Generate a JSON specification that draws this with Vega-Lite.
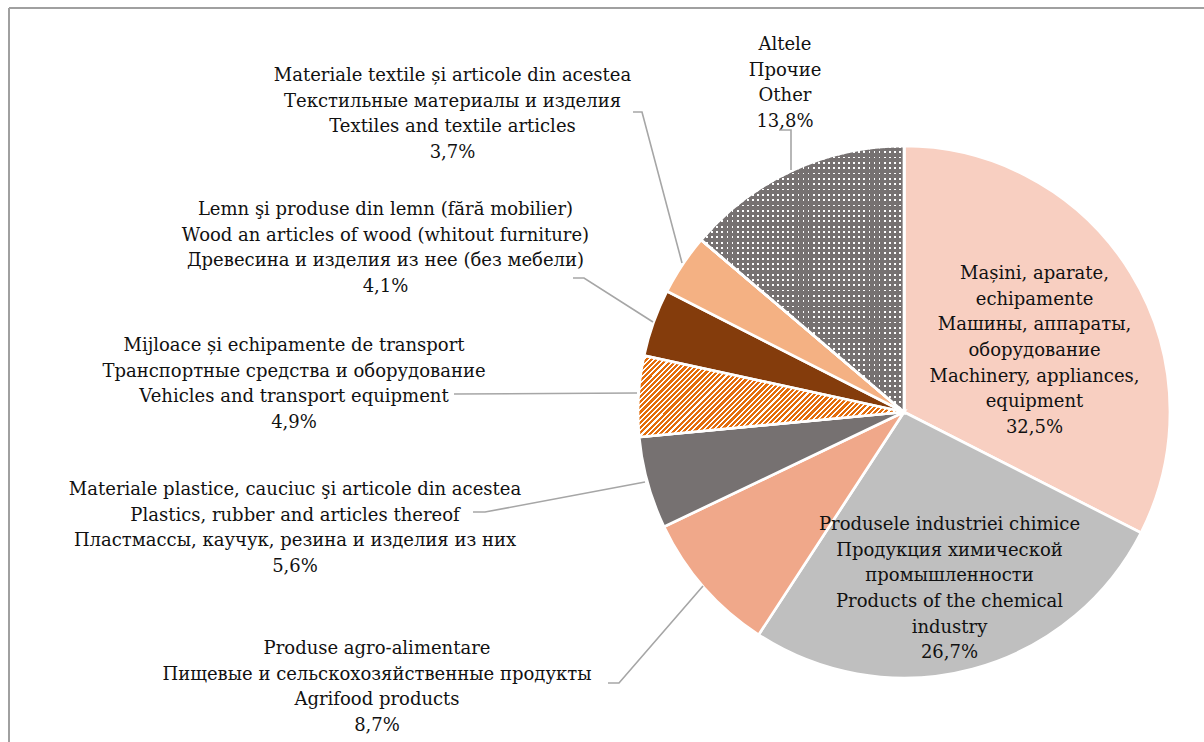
{
  "$schema": "https://vega.github.io/schema/vega-lite/v6.json",
  "width": 1195,
  "height": 734,
  "autosize": {"type": "none"},
  "padding": {"left": 9, "top": 8, "right": 0, "bottom": 0},
  "background": "white",
  "config": {"view": {"stroke": null}},
  "datasets": {
    "slices": [
      {"name": "Machinery", "value": 32.5, "order": 1},
      {"name": "Chemical", "value": 26.7, "order": 2},
      {"name": "Agrifood", "value": 8.7, "order": 3},
      {"name": "Plastics", "value": 5.6, "order": 4},
      {"name": "Vehicles", "value": 4.9, "order": 5},
      {"name": "Wood", "value": 4.1, "order": 6},
      {"name": "Textiles", "value": 3.7, "order": 7},
      {"name": "Other", "value": 13.8, "order": 8}
    ],
    "labels": [
      {"name": "Textiles", "x": -170.38, "y": 126.79, "label": "Materiale textile și articole din acestea\nТекстильные материалы и изделия\nTextiles and textile articles\n3,7%"},
      {"name": "Other", "x": -44.91, "y": 138.49, "label": "Altele\nПрочие\nOther\n13,8%"},
      {"name": "Wood", "x": -195.66, "y": 76.23, "label": "Lemn şi produse din lemn (fără mobilier)\nWood an articles of wood (whitout furniture)\nДревесина и изделия из нее (без мебели)\n4,1%"},
      {"name": "Vehicles", "x": -230.19, "y": 24.91, "label": "Mijloace și echipamente de transport\nТранспортные средства и оборудование\nVehicles and transport equipment\n4,9%"},
      {"name": "Plastics", "x": -229.81, "y": -29.43, "label": "Materiale plastice, cauciuc şi articole din acestea\nPlastics, rubber and articles thereof\nПластмассы, каучук, резина и изделия из них\n5,6%"},
      {"name": "Agrifood", "x": -198.87, "y": -89.43, "label": "Produse agro-alimentare\nПищевые и сельскохозяйственные продукты\nAgrifood products\n8,7%"},
      {"name": "Machinery", "x": 49.25, "y": 52.08, "label": "Mașini, aparate,\nechipamente\nМашины, аппараты,\nоборудование\nMachinery, appliances,\nequipment\n32,5%"},
      {"name": "Chemical", "x": 17.17, "y": -42.64, "label": "Produsele industriei chimice\nПродукция химической\nпромышленности\nProducts of the chemical\nindustry\n26,7%"}
    ],
    "leaders": [
      {"id": "Textiles", "seq": 1, "x": -102.26, "y": 113.21},
      {"id": "Textiles", "seq": 2, "x": -98.87, "y": 113.21},
      {"id": "Textiles", "seq": 3, "x": -83.77, "y": 56.23},
      {"id": "Wood", "seq": 1, "x": -124.91, "y": 50.57},
      {"id": "Wood", "seq": 2, "x": -120.75, "y": 50.57},
      {"id": "Wood", "seq": 3, "x": -94.72, "y": 33.96},
      {"id": "Vehicles", "seq": 1, "x": -169.81, "y": 6.79},
      {"id": "Vehicles", "seq": 2, "x": -100.75, "y": 7.17},
      {"id": "Plastics", "seq": 1, "x": -162.64, "y": -37.74},
      {"id": "Plastics", "seq": 2, "x": -158.11, "y": -37.74},
      {"id": "Plastics", "seq": 3, "x": -97.74, "y": -26.42},
      {"id": "Agrifood", "seq": 1, "x": -111.70, "y": -102.26},
      {"id": "Agrifood", "seq": 2, "x": -107.55, "y": -102.26},
      {"id": "Agrifood", "seq": 3, "x": -75.85, "y": -65.66},
      {"id": "Other", "seq": 1, "x": -47.17, "y": 106.42},
      {"id": "Other", "seq": 2, "x": -42.64, "y": 106.42},
      {"id": "Other", "seq": 3, "x": -42.64, "y": 91.32}
    ]
  },
  "layer": [
    {
      "data": {"values": [{"edge": "left"}]},
      "mark": {"type": "rule", "stroke": "#A0A0A0", "strokeWidth": 2},
      "encoding": {
        "x": {"datum": -337.74, "type": "quantitative", "scale": {"type": "linear", "domain": [-337.74, 113.21], "nice": false, "zero": false}, "axis": null}
      }
    },
    {
      "data": {"values": [{"edge": "top"}]},
      "mark": {"type": "rule", "stroke": "#A0A0A0", "strokeWidth": 2},
      "encoding": {
        "y": {"datum": 152.45, "type": "quantitative", "scale": {"type": "linear", "domain": [-124.53, 152.45], "nice": false, "zero": false}, "axis": null}
      }
    },
    {
      "data": {"name": "slices"},
      "transform": [
        {"stack": "value", "groupby": [], "sort": [{"field": "order", "order": "ascending"}], "as": ["t0", "t1"]}
      ],
      "mark": {"type": "arc", "outerRadius": 266, "stroke": "white", "strokeWidth": 2.7},
      "encoding": {
        "x": {"datum": 0, "type": "quantitative", "scale": {"type": "linear", "domain": [-337.74, 113.21], "nice": false, "zero": false}, "axis": null},
        "y": {"datum": 0, "type": "quantitative", "scale": {"type": "linear", "domain": [-124.53, 152.45], "nice": false, "zero": false}, "axis": null},
        "theta": {"field": "t0", "type": "quantitative", "scale": {"type": "linear", "domain": [0, 100], "zero": true}},
        "theta2": {"field": "t1"},
        "color": {
          "field": "name", "type": "nominal", "legend": null,
          "scale": {
            "domain": ["Machinery", "Chemical", "Agrifood", "Plastics", "Vehicles", "Wood", "Textiles", "Other"],
            "range": ["#F8CFC1", "#BFBFBF", "#F0A88A", "#767171", "#EEA36C", "#843C0C", "#F4B183", "#7E7A7A"]
          }
        }
      }
    },
    {
      "data": {"name": "slices"},
      "transform": [
        {"stack": "value", "groupby": [], "sort": [{"field": "order", "order": "ascending"}], "as": ["t0", "t1"]},
        {"filter": "datum.name === 'Other'"}
      ],
      "mark": {"type": "arc", "outerRadius": 266, "stroke": "white", "strokeWidth": 2.7, "fill": "#FFFFFF"},
      "encoding": {
        "x": {"datum": 0, "type": "quantitative", "scale": {"type": "linear", "domain": [-337.74, 113.21], "nice": false, "zero": false}, "axis": null},
        "y": {"datum": 0, "type": "quantitative", "scale": {"type": "linear", "domain": [-124.53, 152.45], "nice": false, "zero": false}, "axis": null},
        "theta": {"field": "t0", "type": "quantitative", "scale": {"type": "linear", "domain": [0, 100], "zero": true}},
        "theta2": {"field": "t1"}
      }
    },
    {
      "data": {"name": "slices"},
      "transform": [
        {"stack": "value", "groupby": [], "sort": [{"field": "order", "order": "ascending"}], "as": ["t0", "t1"]},
        {"filter": "datum.name === 'Other'"}
      ],
      "mark": {
        "type": "arc", "outerRadius": 266, "stroke": "white", "strokeWidth": 2.7,
        "fill": {
          "gradient": "linear", "x1": 0, "y1": 0, "x2": 0, "y2": 1,
          "stops": [
            {"offset":0,"color":"rgba(118,113,113,0)"},{"offset":0.007,"color":"rgba(118,113,113,0)"},{"offset":0.007,"color":"#767171"},{"offset":0.02,"color":"#767171"},
            {"offset":0.02,"color":"rgba(118,113,113,0)"},{"offset":0.027,"color":"rgba(118,113,113,0)"},{"offset":0.027,"color":"#767171"},{"offset":0.04,"color":"#767171"},
            {"offset":0.04,"color":"rgba(118,113,113,0)"},{"offset":0.047,"color":"rgba(118,113,113,0)"},{"offset":0.047,"color":"#767171"},{"offset":0.06,"color":"#767171"},
            {"offset":0.06,"color":"rgba(118,113,113,0)"},{"offset":0.067,"color":"rgba(118,113,113,0)"},{"offset":0.067,"color":"#767171"},{"offset":0.08,"color":"#767171"},
            {"offset":0.08,"color":"rgba(118,113,113,0)"},{"offset":0.087,"color":"rgba(118,113,113,0)"},{"offset":0.087,"color":"#767171"},{"offset":0.1,"color":"#767171"},
            {"offset":0.1,"color":"rgba(118,113,113,0)"},{"offset":0.107,"color":"rgba(118,113,113,0)"},{"offset":0.107,"color":"#767171"},{"offset":0.12,"color":"#767171"},
            {"offset":0.12,"color":"rgba(118,113,113,0)"},{"offset":0.127,"color":"rgba(118,113,113,0)"},{"offset":0.127,"color":"#767171"},{"offset":0.14,"color":"#767171"},
            {"offset":0.14,"color":"rgba(118,113,113,0)"},{"offset":0.147,"color":"rgba(118,113,113,0)"},{"offset":0.147,"color":"#767171"},{"offset":0.16,"color":"#767171"},
            {"offset":0.16,"color":"rgba(118,113,113,0)"},{"offset":0.167,"color":"rgba(118,113,113,0)"},{"offset":0.167,"color":"#767171"},{"offset":0.18,"color":"#767171"},
            {"offset":0.18,"color":"rgba(118,113,113,0)"},{"offset":0.187,"color":"rgba(118,113,113,0)"},{"offset":0.187,"color":"#767171"},{"offset":0.2,"color":"#767171"},
            {"offset":0.2,"color":"rgba(118,113,113,0)"},{"offset":0.207,"color":"rgba(118,113,113,0)"},{"offset":0.207,"color":"#767171"},{"offset":0.22,"color":"#767171"},
            {"offset":0.22,"color":"rgba(118,113,113,0)"},{"offset":0.227,"color":"rgba(118,113,113,0)"},{"offset":0.227,"color":"#767171"},{"offset":0.24,"color":"#767171"},
            {"offset":0.24,"color":"rgba(118,113,113,0)"},{"offset":0.247,"color":"rgba(118,113,113,0)"},{"offset":0.247,"color":"#767171"},{"offset":0.26,"color":"#767171"},
            {"offset":0.26,"color":"rgba(118,113,113,0)"},{"offset":0.267,"color":"rgba(118,113,113,0)"},{"offset":0.267,"color":"#767171"},{"offset":0.28,"color":"#767171"},
            {"offset":0.28,"color":"rgba(118,113,113,0)"},{"offset":0.287,"color":"rgba(118,113,113,0)"},{"offset":0.287,"color":"#767171"},{"offset":0.3,"color":"#767171"},
            {"offset":0.3,"color":"rgba(118,113,113,0)"},{"offset":0.307,"color":"rgba(118,113,113,0)"},{"offset":0.307,"color":"#767171"},{"offset":0.32,"color":"#767171"},
            {"offset":0.32,"color":"rgba(118,113,113,0)"},{"offset":0.327,"color":"rgba(118,113,113,0)"},{"offset":0.327,"color":"#767171"},{"offset":0.34,"color":"#767171"},
            {"offset":0.34,"color":"rgba(118,113,113,0)"},{"offset":0.347,"color":"rgba(118,113,113,0)"},{"offset":0.347,"color":"#767171"},{"offset":0.36,"color":"#767171"},
            {"offset":0.36,"color":"rgba(118,113,113,0)"},{"offset":0.367,"color":"rgba(118,113,113,0)"},{"offset":0.367,"color":"#767171"},{"offset":0.38,"color":"#767171"},
            {"offset":0.38,"color":"rgba(118,113,113,0)"},{"offset":0.387,"color":"rgba(118,113,113,0)"},{"offset":0.387,"color":"#767171"},{"offset":0.4,"color":"#767171"},
            {"offset":0.4,"color":"rgba(118,113,113,0)"},{"offset":0.407,"color":"rgba(118,113,113,0)"},{"offset":0.407,"color":"#767171"},{"offset":0.42,"color":"#767171"},
            {"offset":0.42,"color":"rgba(118,113,113,0)"},{"offset":0.427,"color":"rgba(118,113,113,0)"},{"offset":0.427,"color":"#767171"},{"offset":0.44,"color":"#767171"},
            {"offset":0.44,"color":"rgba(118,113,113,0)"},{"offset":0.447,"color":"rgba(118,113,113,0)"},{"offset":0.447,"color":"#767171"},{"offset":0.46,"color":"#767171"},
            {"offset":0.46,"color":"rgba(118,113,113,0)"},{"offset":0.467,"color":"rgba(118,113,113,0)"},{"offset":0.467,"color":"#767171"},{"offset":0.48,"color":"#767171"},
            {"offset":0.48,"color":"rgba(118,113,113,0)"},{"offset":0.487,"color":"rgba(118,113,113,0)"},{"offset":0.487,"color":"#767171"},{"offset":0.5,"color":"#767171"},
            {"offset":0.5,"color":"rgba(118,113,113,0)"},{"offset":0.507,"color":"rgba(118,113,113,0)"},{"offset":0.507,"color":"#767171"},{"offset":0.52,"color":"#767171"},
            {"offset":0.52,"color":"rgba(118,113,113,0)"},{"offset":0.527,"color":"rgba(118,113,113,0)"},{"offset":0.527,"color":"#767171"},{"offset":0.54,"color":"#767171"},
            {"offset":0.54,"color":"rgba(118,113,113,0)"},{"offset":0.547,"color":"rgba(118,113,113,0)"},{"offset":0.547,"color":"#767171"},{"offset":0.56,"color":"#767171"},
            {"offset":0.56,"color":"rgba(118,113,113,0)"},{"offset":0.567,"color":"rgba(118,113,113,0)"},{"offset":0.567,"color":"#767171"},{"offset":0.58,"color":"#767171"},
            {"offset":0.58,"color":"rgba(118,113,113,0)"},{"offset":0.587,"color":"rgba(118,113,113,0)"},{"offset":0.587,"color":"#767171"},{"offset":0.6,"color":"#767171"},
            {"offset":0.6,"color":"rgba(118,113,113,0)"},{"offset":0.607,"color":"rgba(118,113,113,0)"},{"offset":0.607,"color":"#767171"},{"offset":0.62,"color":"#767171"},
            {"offset":0.62,"color":"rgba(118,113,113,0)"},{"offset":0.627,"color":"rgba(118,113,113,0)"},{"offset":0.627,"color":"#767171"},{"offset":0.64,"color":"#767171"},
            {"offset":0.64,"color":"rgba(118,113,113,0)"},{"offset":0.647,"color":"rgba(118,113,113,0)"},{"offset":0.647,"color":"#767171"},{"offset":0.66,"color":"#767171"},
            {"offset":0.66,"color":"rgba(118,113,113,0)"},{"offset":0.667,"color":"rgba(118,113,113,0)"},{"offset":0.667,"color":"#767171"},{"offset":0.68,"color":"#767171"},
            {"offset":0.68,"color":"rgba(118,113,113,0)"},{"offset":0.687,"color":"rgba(118,113,113,0)"},{"offset":0.687,"color":"#767171"},{"offset":0.7,"color":"#767171"},
            {"offset":0.7,"color":"rgba(118,113,113,0)"},{"offset":0.707,"color":"rgba(118,113,113,0)"},{"offset":0.707,"color":"#767171"},{"offset":0.72,"color":"#767171"},
            {"offset":0.72,"color":"rgba(118,113,113,0)"},{"offset":0.727,"color":"rgba(118,113,113,0)"},{"offset":0.727,"color":"#767171"},{"offset":0.74,"color":"#767171"},
            {"offset":0.74,"color":"rgba(118,113,113,0)"},{"offset":0.747,"color":"rgba(118,113,113,0)"},{"offset":0.747,"color":"#767171"},{"offset":0.76,"color":"#767171"},
            {"offset":0.76,"color":"rgba(118,113,113,0)"},{"offset":0.767,"color":"rgba(118,113,113,0)"},{"offset":0.767,"color":"#767171"},{"offset":0.78,"color":"#767171"},
            {"offset":0.78,"color":"rgba(118,113,113,0)"},{"offset":0.787,"color":"rgba(118,113,113,0)"},{"offset":0.787,"color":"#767171"},{"offset":0.8,"color":"#767171"},
            {"offset":0.8,"color":"rgba(118,113,113,0)"},{"offset":0.807,"color":"rgba(118,113,113,0)"},{"offset":0.807,"color":"#767171"},{"offset":0.82,"color":"#767171"},
            {"offset":0.82,"color":"rgba(118,113,113,0)"},{"offset":0.827,"color":"rgba(118,113,113,0)"},{"offset":0.827,"color":"#767171"},{"offset":0.84,"color":"#767171"},
            {"offset":0.84,"color":"rgba(118,113,113,0)"},{"offset":0.847,"color":"rgba(118,113,113,0)"},{"offset":0.847,"color":"#767171"},{"offset":0.86,"color":"#767171"},
            {"offset":0.86,"color":"rgba(118,113,113,0)"},{"offset":0.867,"color":"rgba(118,113,113,0)"},{"offset":0.867,"color":"#767171"},{"offset":0.88,"color":"#767171"},
            {"offset":0.88,"color":"rgba(118,113,113,0)"},{"offset":0.887,"color":"rgba(118,113,113,0)"},{"offset":0.887,"color":"#767171"},{"offset":0.9,"color":"#767171"},
            {"offset":0.9,"color":"rgba(118,113,113,0)"},{"offset":0.907,"color":"rgba(118,113,113,0)"},{"offset":0.907,"color":"#767171"},{"offset":0.92,"color":"#767171"},
            {"offset":0.92,"color":"rgba(118,113,113,0)"},{"offset":0.927,"color":"rgba(118,113,113,0)"},{"offset":0.927,"color":"#767171"},{"offset":0.94,"color":"#767171"},
            {"offset":0.94,"color":"rgba(118,113,113,0)"},{"offset":0.947,"color":"rgba(118,113,113,0)"},{"offset":0.947,"color":"#767171"},{"offset":0.96,"color":"#767171"},
            {"offset":0.96,"color":"rgba(118,113,113,0)"},{"offset":0.967,"color":"rgba(118,113,113,0)"},{"offset":0.967,"color":"#767171"},{"offset":0.98,"color":"#767171"},
            {"offset":0.98,"color":"rgba(118,113,113,0)"},{"offset":0.987,"color":"rgba(118,113,113,0)"},{"offset":0.987,"color":"#767171"},{"offset":1,"color":"#767171"}
          ]
        }
      },
      "encoding": {
        "x": {"datum": 0, "type": "quantitative", "scale": {"type": "linear", "domain": [-337.74, 113.21], "nice": false, "zero": false}, "axis": null},
        "y": {"datum": 0, "type": "quantitative", "scale": {"type": "linear", "domain": [-124.53, 152.45], "nice": false, "zero": false}, "axis": null},
        "theta": {"field": "t0", "type": "quantitative", "scale": {"type": "linear", "domain": [0, 100], "zero": true}},
        "theta2": {"field": "t1"}
      }
    },
    {
      "data": {"name": "slices"},
      "transform": [
        {"stack": "value", "groupby": [], "sort": [{"field": "order", "order": "ascending"}], "as": ["t0", "t1"]},
        {"filter": "datum.name === 'Other'"}
      ],
      "mark": {
        "type": "arc", "outerRadius": 266, "stroke": "white", "strokeWidth": 2.7,
        "fill": {
          "gradient": "linear", "x1": 0, "y1": 0, "x2": 1, "y2": 0,
          "stops": [
            {"offset":0,"color":"rgba(118,113,113,0)"},{"offset":0.009,"color":"rgba(118,113,113,0)"},{"offset":0.009,"color":"#767171"},{"offset":0.025,"color":"#767171"},
            {"offset":0.025,"color":"rgba(118,113,113,0)"},{"offset":0.034,"color":"rgba(118,113,113,0)"},{"offset":0.034,"color":"#767171"},{"offset":0.05,"color":"#767171"},
            {"offset":0.05,"color":"rgba(118,113,113,0)"},{"offset":0.059,"color":"rgba(118,113,113,0)"},{"offset":0.059,"color":"#767171"},{"offset":0.075,"color":"#767171"},
            {"offset":0.075,"color":"rgba(118,113,113,0)"},{"offset":0.084,"color":"rgba(118,113,113,0)"},{"offset":0.084,"color":"#767171"},{"offset":0.1,"color":"#767171"},
            {"offset":0.1,"color":"rgba(118,113,113,0)"},{"offset":0.109,"color":"rgba(118,113,113,0)"},{"offset":0.109,"color":"#767171"},{"offset":0.125,"color":"#767171"},
            {"offset":0.125,"color":"rgba(118,113,113,0)"},{"offset":0.134,"color":"rgba(118,113,113,0)"},{"offset":0.134,"color":"#767171"},{"offset":0.15,"color":"#767171"},
            {"offset":0.15,"color":"rgba(118,113,113,0)"},{"offset":0.159,"color":"rgba(118,113,113,0)"},{"offset":0.159,"color":"#767171"},{"offset":0.175,"color":"#767171"},
            {"offset":0.175,"color":"rgba(118,113,113,0)"},{"offset":0.184,"color":"rgba(118,113,113,0)"},{"offset":0.184,"color":"#767171"},{"offset":0.2,"color":"#767171"},
            {"offset":0.2,"color":"rgba(118,113,113,0)"},{"offset":0.209,"color":"rgba(118,113,113,0)"},{"offset":0.209,"color":"#767171"},{"offset":0.225,"color":"#767171"},
            {"offset":0.225,"color":"rgba(118,113,113,0)"},{"offset":0.234,"color":"rgba(118,113,113,0)"},{"offset":0.234,"color":"#767171"},{"offset":0.25,"color":"#767171"},
            {"offset":0.25,"color":"rgba(118,113,113,0)"},{"offset":0.259,"color":"rgba(118,113,113,0)"},{"offset":0.259,"color":"#767171"},{"offset":0.275,"color":"#767171"},
            {"offset":0.275,"color":"rgba(118,113,113,0)"},{"offset":0.284,"color":"rgba(118,113,113,0)"},{"offset":0.284,"color":"#767171"},{"offset":0.3,"color":"#767171"},
            {"offset":0.3,"color":"rgba(118,113,113,0)"},{"offset":0.309,"color":"rgba(118,113,113,0)"},{"offset":0.309,"color":"#767171"},{"offset":0.325,"color":"#767171"},
            {"offset":0.325,"color":"rgba(118,113,113,0)"},{"offset":0.334,"color":"rgba(118,113,113,0)"},{"offset":0.334,"color":"#767171"},{"offset":0.35,"color":"#767171"},
            {"offset":0.35,"color":"rgba(118,113,113,0)"},{"offset":0.359,"color":"rgba(118,113,113,0)"},{"offset":0.359,"color":"#767171"},{"offset":0.375,"color":"#767171"},
            {"offset":0.375,"color":"rgba(118,113,113,0)"},{"offset":0.384,"color":"rgba(118,113,113,0)"},{"offset":0.384,"color":"#767171"},{"offset":0.4,"color":"#767171"},
            {"offset":0.4,"color":"rgba(118,113,113,0)"},{"offset":0.409,"color":"rgba(118,113,113,0)"},{"offset":0.409,"color":"#767171"},{"offset":0.425,"color":"#767171"},
            {"offset":0.425,"color":"rgba(118,113,113,0)"},{"offset":0.434,"color":"rgba(118,113,113,0)"},{"offset":0.434,"color":"#767171"},{"offset":0.45,"color":"#767171"},
            {"offset":0.45,"color":"rgba(118,113,113,0)"},{"offset":0.459,"color":"rgba(118,113,113,0)"},{"offset":0.459,"color":"#767171"},{"offset":0.475,"color":"#767171"},
            {"offset":0.475,"color":"rgba(118,113,113,0)"},{"offset":0.484,"color":"rgba(118,113,113,0)"},{"offset":0.484,"color":"#767171"},{"offset":0.5,"color":"#767171"},
            {"offset":0.5,"color":"rgba(118,113,113,0)"},{"offset":0.509,"color":"rgba(118,113,113,0)"},{"offset":0.509,"color":"#767171"},{"offset":0.525,"color":"#767171"},
            {"offset":0.525,"color":"rgba(118,113,113,0)"},{"offset":0.534,"color":"rgba(118,113,113,0)"},{"offset":0.534,"color":"#767171"},{"offset":0.55,"color":"#767171"},
            {"offset":0.55,"color":"rgba(118,113,113,0)"},{"offset":0.559,"color":"rgba(118,113,113,0)"},{"offset":0.559,"color":"#767171"},{"offset":0.575,"color":"#767171"},
            {"offset":0.575,"color":"rgba(118,113,113,0)"},{"offset":0.584,"color":"rgba(118,113,113,0)"},{"offset":0.584,"color":"#767171"},{"offset":0.6,"color":"#767171"},
            {"offset":0.6,"color":"rgba(118,113,113,0)"},{"offset":0.609,"color":"rgba(118,113,113,0)"},{"offset":0.609,"color":"#767171"},{"offset":0.625,"color":"#767171"},
            {"offset":0.625,"color":"rgba(118,113,113,0)"},{"offset":0.634,"color":"rgba(118,113,113,0)"},{"offset":0.634,"color":"#767171"},{"offset":0.65,"color":"#767171"},
            {"offset":0.65,"color":"rgba(118,113,113,0)"},{"offset":0.659,"color":"rgba(118,113,113,0)"},{"offset":0.659,"color":"#767171"},{"offset":0.675,"color":"#767171"},
            {"offset":0.675,"color":"rgba(118,113,113,0)"},{"offset":0.684,"color":"rgba(118,113,113,0)"},{"offset":0.684,"color":"#767171"},{"offset":0.7,"color":"#767171"},
            {"offset":0.7,"color":"rgba(118,113,113,0)"},{"offset":0.709,"color":"rgba(118,113,113,0)"},{"offset":0.709,"color":"#767171"},{"offset":0.725,"color":"#767171"},
            {"offset":0.725,"color":"rgba(118,113,113,0)"},{"offset":0.734,"color":"rgba(118,113,113,0)"},{"offset":0.734,"color":"#767171"},{"offset":0.75,"color":"#767171"},
            {"offset":0.75,"color":"rgba(118,113,113,0)"},{"offset":0.759,"color":"rgba(118,113,113,0)"},{"offset":0.759,"color":"#767171"},{"offset":0.775,"color":"#767171"},
            {"offset":0.775,"color":"rgba(118,113,113,0)"},{"offset":0.784,"color":"rgba(118,113,113,0)"},{"offset":0.784,"color":"#767171"},{"offset":0.8,"color":"#767171"},
            {"offset":0.8,"color":"rgba(118,113,113,0)"},{"offset":0.809,"color":"rgba(118,113,113,0)"},{"offset":0.809,"color":"#767171"},{"offset":0.825,"color":"#767171"},
            {"offset":0.825,"color":"rgba(118,113,113,0)"},{"offset":0.834,"color":"rgba(118,113,113,0)"},{"offset":0.834,"color":"#767171"},{"offset":0.85,"color":"#767171"},
            {"offset":0.85,"color":"rgba(118,113,113,0)"},{"offset":0.859,"color":"rgba(118,113,113,0)"},{"offset":0.859,"color":"#767171"},{"offset":0.875,"color":"#767171"},
            {"offset":0.875,"color":"rgba(118,113,113,0)"},{"offset":0.884,"color":"rgba(118,113,113,0)"},{"offset":0.884,"color":"#767171"},{"offset":0.9,"color":"#767171"},
            {"offset":0.9,"color":"rgba(118,113,113,0)"},{"offset":0.909,"color":"rgba(118,113,113,0)"},{"offset":0.909,"color":"#767171"},{"offset":0.925,"color":"#767171"},
            {"offset":0.925,"color":"rgba(118,113,113,0)"},{"offset":0.934,"color":"rgba(118,113,113,0)"},{"offset":0.934,"color":"#767171"},{"offset":0.95,"color":"#767171"},
            {"offset":0.95,"color":"rgba(118,113,113,0)"},{"offset":0.959,"color":"rgba(118,113,113,0)"},{"offset":0.959,"color":"#767171"},{"offset":0.975,"color":"#767171"},
            {"offset":0.975,"color":"rgba(118,113,113,0)"},{"offset":0.984,"color":"rgba(118,113,113,0)"},{"offset":0.984,"color":"#767171"},{"offset":1,"color":"#767171"}
          ]
        }
      },
      "encoding": {
        "x": {"datum": 0, "type": "quantitative", "scale": {"type": "linear", "domain": [-337.74, 113.21], "nice": false, "zero": false}, "axis": null},
        "y": {"datum": 0, "type": "quantitative", "scale": {"type": "linear", "domain": [-124.53, 152.45], "nice": false, "zero": false}, "axis": null},
        "theta": {"field": "t0", "type": "quantitative", "scale": {"type": "linear", "domain": [0, 100], "zero": true}},
        "theta2": {"field": "t1"}
      }
    },
    {
      "data": {"name": "slices"},
      "transform": [
        {"stack": "value", "groupby": [], "sort": [{"field": "order", "order": "ascending"}], "as": ["t0", "t1"]},
        {"filter": "datum.name === 'Vehicles'"}
      ],
      "mark": {
        "type": "arc", "outerRadius": 266, "stroke": "white", "strokeWidth": 2.7,
        "fill": {
          "gradient": "linear", "x1": 0, "y1": 0, "x2": 1.1942, "y2": 0.3654,
          "stops": [
            {"offset": 0, "color": "#E36C0A"}, {"offset": 0.009, "color": "#E36C0A"}, {"offset": 0.009, "color": "#FFFFFF"}, {"offset": 0.015, "color": "#FFFFFF"},
            {"offset": 0.015, "color": "#E36C0A"}, {"offset": 0.024, "color": "#E36C0A"}, {"offset": 0.024, "color": "#FFFFFF"}, {"offset": 0.03, "color": "#FFFFFF"},
            {"offset": 0.03, "color": "#E36C0A"}, {"offset": 0.039, "color": "#E36C0A"}, {"offset": 0.039, "color": "#FFFFFF"}, {"offset": 0.045, "color": "#FFFFFF"},
            {"offset": 0.045, "color": "#E36C0A"}, {"offset": 0.054, "color": "#E36C0A"}, {"offset": 0.054, "color": "#FFFFFF"}, {"offset": 0.06, "color": "#FFFFFF"},
            {"offset": 0.06, "color": "#E36C0A"}, {"offset": 0.069, "color": "#E36C0A"}, {"offset": 0.069, "color": "#FFFFFF"}, {"offset": 0.075, "color": "#FFFFFF"},
            {"offset": 0.075, "color": "#E36C0A"}, {"offset": 0.084, "color": "#E36C0A"}, {"offset": 0.084, "color": "#FFFFFF"}, {"offset": 0.09, "color": "#FFFFFF"},
            {"offset": 0.09, "color": "#E36C0A"}, {"offset": 0.099, "color": "#E36C0A"}, {"offset": 0.099, "color": "#FFFFFF"}, {"offset": 0.105, "color": "#FFFFFF"},
            {"offset": 0.105, "color": "#E36C0A"}, {"offset": 0.114, "color": "#E36C0A"}, {"offset": 0.114, "color": "#FFFFFF"}, {"offset": 0.12, "color": "#FFFFFF"},
            {"offset": 0.12, "color": "#E36C0A"}, {"offset": 0.129, "color": "#E36C0A"}, {"offset": 0.129, "color": "#FFFFFF"}, {"offset": 0.135, "color": "#FFFFFF"},
            {"offset": 0.135, "color": "#E36C0A"}, {"offset": 0.144, "color": "#E36C0A"}, {"offset": 0.144, "color": "#FFFFFF"}, {"offset": 0.15, "color": "#FFFFFF"},
            {"offset": 0.15, "color": "#E36C0A"}, {"offset": 0.159, "color": "#E36C0A"}, {"offset": 0.159, "color": "#FFFFFF"}, {"offset": 0.165, "color": "#FFFFFF"},
            {"offset": 0.165, "color": "#E36C0A"}, {"offset": 0.174, "color": "#E36C0A"}, {"offset": 0.174, "color": "#FFFFFF"}, {"offset": 0.18, "color": "#FFFFFF"},
            {"offset": 0.18, "color": "#E36C0A"}, {"offset": 0.189, "color": "#E36C0A"}, {"offset": 0.189, "color": "#FFFFFF"}, {"offset": 0.195, "color": "#FFFFFF"},
            {"offset": 0.195, "color": "#E36C0A"}, {"offset": 0.204, "color": "#E36C0A"}, {"offset": 0.204, "color": "#FFFFFF"}, {"offset": 0.21, "color": "#FFFFFF"},
            {"offset": 0.21, "color": "#E36C0A"}, {"offset": 0.219, "color": "#E36C0A"}, {"offset": 0.219, "color": "#FFFFFF"}, {"offset": 0.225, "color": "#FFFFFF"},
            {"offset": 0.225, "color": "#E36C0A"}, {"offset": 0.234, "color": "#E36C0A"}, {"offset": 0.234, "color": "#FFFFFF"}, {"offset": 0.24, "color": "#FFFFFF"},
            {"offset": 0.24, "color": "#E36C0A"}, {"offset": 0.249, "color": "#E36C0A"}, {"offset": 0.249, "color": "#FFFFFF"}, {"offset": 0.255, "color": "#FFFFFF"},
            {"offset": 0.255, "color": "#E36C0A"}, {"offset": 0.264, "color": "#E36C0A"}, {"offset": 0.264, "color": "#FFFFFF"}, {"offset": 0.27, "color": "#FFFFFF"},
            {"offset": 0.27, "color": "#E36C0A"}, {"offset": 0.279, "color": "#E36C0A"}, {"offset": 0.279, "color": "#FFFFFF"}, {"offset": 0.285, "color": "#FFFFFF"},
            {"offset": 0.285, "color": "#E36C0A"}, {"offset": 0.294, "color": "#E36C0A"}, {"offset": 0.294, "color": "#FFFFFF"}, {"offset": 0.3, "color": "#FFFFFF"},
            {"offset": 0.3, "color": "#E36C0A"}, {"offset": 0.309, "color": "#E36C0A"}, {"offset": 0.309, "color": "#FFFFFF"}, {"offset": 0.315, "color": "#FFFFFF"},
            {"offset": 0.315, "color": "#E36C0A"}, {"offset": 0.324, "color": "#E36C0A"}, {"offset": 0.324, "color": "#FFFFFF"}, {"offset": 0.33, "color": "#FFFFFF"},
            {"offset": 0.33, "color": "#E36C0A"}, {"offset": 0.339, "color": "#E36C0A"}, {"offset": 0.339, "color": "#FFFFFF"}, {"offset": 0.345, "color": "#FFFFFF"},
            {"offset": 0.345, "color": "#E36C0A"}, {"offset": 0.354, "color": "#E36C0A"}, {"offset": 0.354, "color": "#FFFFFF"}, {"offset": 0.36, "color": "#FFFFFF"},
            {"offset": 0.36, "color": "#E36C0A"}, {"offset": 0.369, "color": "#E36C0A"}, {"offset": 0.369, "color": "#FFFFFF"}, {"offset": 0.375, "color": "#FFFFFF"},
            {"offset": 0.375, "color": "#E36C0A"}, {"offset": 0.384, "color": "#E36C0A"}, {"offset": 0.384, "color": "#FFFFFF"}, {"offset": 0.39, "color": "#FFFFFF"},
            {"offset": 0.39, "color": "#E36C0A"}, {"offset": 0.399, "color": "#E36C0A"}, {"offset": 0.399, "color": "#FFFFFF"}, {"offset": 0.405, "color": "#FFFFFF"},
            {"offset": 0.405, "color": "#E36C0A"}, {"offset": 0.414, "color": "#E36C0A"}, {"offset": 0.414, "color": "#FFFFFF"}, {"offset": 0.42, "color": "#FFFFFF"},
            {"offset": 0.42, "color": "#E36C0A"}, {"offset": 0.429, "color": "#E36C0A"}, {"offset": 0.429, "color": "#FFFFFF"}, {"offset": 0.435, "color": "#FFFFFF"},
            {"offset": 0.435, "color": "#E36C0A"}, {"offset": 0.444, "color": "#E36C0A"}, {"offset": 0.444, "color": "#FFFFFF"}, {"offset": 0.45, "color": "#FFFFFF"},
            {"offset": 0.45, "color": "#E36C0A"}, {"offset": 0.459, "color": "#E36C0A"}, {"offset": 0.459, "color": "#FFFFFF"}, {"offset": 0.465, "color": "#FFFFFF"},
            {"offset": 0.465, "color": "#E36C0A"}, {"offset": 0.474, "color": "#E36C0A"}, {"offset": 0.474, "color": "#FFFFFF"}, {"offset": 0.48, "color": "#FFFFFF"},
            {"offset": 0.48, "color": "#E36C0A"}, {"offset": 0.489, "color": "#E36C0A"}, {"offset": 0.489, "color": "#FFFFFF"}, {"offset": 0.495, "color": "#FFFFFF"},
            {"offset": 0.495, "color": "#E36C0A"}, {"offset": 0.504, "color": "#E36C0A"}, {"offset": 0.504, "color": "#FFFFFF"}, {"offset": 0.51, "color": "#FFFFFF"},
            {"offset": 0.51, "color": "#E36C0A"}, {"offset": 0.519, "color": "#E36C0A"}, {"offset": 0.519, "color": "#FFFFFF"}, {"offset": 0.525, "color": "#FFFFFF"},
            {"offset": 0.525, "color": "#E36C0A"}, {"offset": 0.534, "color": "#E36C0A"}, {"offset": 0.534, "color": "#FFFFFF"}, {"offset": 0.54, "color": "#FFFFFF"},
            {"offset": 0.54, "color": "#E36C0A"}, {"offset": 0.549, "color": "#E36C0A"}, {"offset": 0.549, "color": "#FFFFFF"}, {"offset": 0.555, "color": "#FFFFFF"},
            {"offset": 0.555, "color": "#E36C0A"}, {"offset": 0.564, "color": "#E36C0A"}, {"offset": 0.564, "color": "#FFFFFF"}, {"offset": 0.57, "color": "#FFFFFF"},
            {"offset": 0.57, "color": "#E36C0A"}, {"offset": 0.579, "color": "#E36C0A"}, {"offset": 0.579, "color": "#FFFFFF"}, {"offset": 0.585, "color": "#FFFFFF"},
            {"offset": 0.585, "color": "#E36C0A"}, {"offset": 0.594, "color": "#E36C0A"}, {"offset": 0.594, "color": "#FFFFFF"}, {"offset": 0.6, "color": "#FFFFFF"},
            {"offset": 0.6, "color": "#E36C0A"}, {"offset": 0.609, "color": "#E36C0A"}, {"offset": 0.609, "color": "#FFFFFF"}, {"offset": 0.615, "color": "#FFFFFF"},
            {"offset": 0.615, "color": "#E36C0A"}, {"offset": 0.624, "color": "#E36C0A"}, {"offset": 0.624, "color": "#FFFFFF"}, {"offset": 0.63, "color": "#FFFFFF"},
            {"offset": 0.63, "color": "#E36C0A"}, {"offset": 0.639, "color": "#E36C0A"}, {"offset": 0.639, "color": "#FFFFFF"}, {"offset": 0.645, "color": "#FFFFFF"},
            {"offset": 0.645, "color": "#E36C0A"}, {"offset": 0.654, "color": "#E36C0A"}, {"offset": 0.654, "color": "#FFFFFF"}, {"offset": 0.66, "color": "#FFFFFF"},
            {"offset": 0.66, "color": "#E36C0A"}, {"offset": 0.669, "color": "#E36C0A"}, {"offset": 0.669, "color": "#FFFFFF"}, {"offset": 0.675, "color": "#FFFFFF"},
            {"offset": 0.675, "color": "#E36C0A"}, {"offset": 0.684, "color": "#E36C0A"}, {"offset": 0.684, "color": "#FFFFFF"}, {"offset": 0.69, "color": "#FFFFFF"},
            {"offset": 0.69, "color": "#E36C0A"}, {"offset": 0.699, "color": "#E36C0A"}, {"offset": 0.699, "color": "#FFFFFF"}, {"offset": 0.705, "color": "#FFFFFF"},
            {"offset": 0.705, "color": "#E36C0A"}, {"offset": 0.714, "color": "#E36C0A"}, {"offset": 0.714, "color": "#FFFFFF"}, {"offset": 0.72, "color": "#FFFFFF"},
            {"offset": 0.72, "color": "#E36C0A"}, {"offset": 0.729, "color": "#E36C0A"}, {"offset": 0.729, "color": "#FFFFFF"}, {"offset": 0.735, "color": "#FFFFFF"},
            {"offset": 0.735, "color": "#E36C0A"}, {"offset": 0.744, "color": "#E36C0A"}, {"offset": 0.744, "color": "#FFFFFF"}, {"offset": 0.75, "color": "#FFFFFF"},
            {"offset": 0.75, "color": "#E36C0A"}, {"offset": 0.759, "color": "#E36C0A"}, {"offset": 0.759, "color": "#FFFFFF"}, {"offset": 0.765, "color": "#FFFFFF"},
            {"offset": 0.765, "color": "#E36C0A"}, {"offset": 0.774, "color": "#E36C0A"}, {"offset": 0.774, "color": "#FFFFFF"}, {"offset": 0.78, "color": "#FFFFFF"},
            {"offset": 0.78, "color": "#E36C0A"}, {"offset": 0.789, "color": "#E36C0A"}, {"offset": 0.789, "color": "#FFFFFF"}, {"offset": 0.795, "color": "#FFFFFF"},
            {"offset": 0.795, "color": "#E36C0A"}, {"offset": 0.804, "color": "#E36C0A"}, {"offset": 0.804, "color": "#FFFFFF"}, {"offset": 0.81, "color": "#FFFFFF"},
            {"offset": 0.81, "color": "#E36C0A"}, {"offset": 0.819, "color": "#E36C0A"}, {"offset": 0.819, "color": "#FFFFFF"}, {"offset": 0.825, "color": "#FFFFFF"},
            {"offset": 0.825, "color": "#E36C0A"}, {"offset": 0.834, "color": "#E36C0A"}, {"offset": 0.834, "color": "#FFFFFF"}, {"offset": 0.84, "color": "#FFFFFF"},
            {"offset": 0.84, "color": "#E36C0A"}, {"offset": 0.849, "color": "#E36C0A"}, {"offset": 0.849, "color": "#FFFFFF"}, {"offset": 0.855, "color": "#FFFFFF"},
            {"offset": 0.855, "color": "#E36C0A"}, {"offset": 0.864, "color": "#E36C0A"}, {"offset": 0.864, "color": "#FFFFFF"}, {"offset": 0.87, "color": "#FFFFFF"},
            {"offset": 0.87, "color": "#E36C0A"}, {"offset": 0.879, "color": "#E36C0A"}, {"offset": 0.879, "color": "#FFFFFF"}, {"offset": 0.885, "color": "#FFFFFF"},
            {"offset": 0.885, "color": "#E36C0A"}, {"offset": 0.894, "color": "#E36C0A"}, {"offset": 0.894, "color": "#FFFFFF"}, {"offset": 0.9, "color": "#FFFFFF"},
            {"offset": 0.9, "color": "#E36C0A"}, {"offset": 0.909, "color": "#E36C0A"}, {"offset": 0.909, "color": "#FFFFFF"}, {"offset": 0.915, "color": "#FFFFFF"},
            {"offset": 0.915, "color": "#E36C0A"}, {"offset": 0.924, "color": "#E36C0A"}, {"offset": 0.924, "color": "#FFFFFF"}, {"offset": 0.93, "color": "#FFFFFF"},
            {"offset": 0.93, "color": "#E36C0A"}, {"offset": 0.939, "color": "#E36C0A"}, {"offset": 0.939, "color": "#FFFFFF"}, {"offset": 0.945, "color": "#FFFFFF"},
            {"offset": 0.945, "color": "#E36C0A"}, {"offset": 0.954, "color": "#E36C0A"}, {"offset": 0.954, "color": "#FFFFFF"}, {"offset": 0.96, "color": "#FFFFFF"},
            {"offset": 0.96, "color": "#E36C0A"}, {"offset": 0.969, "color": "#E36C0A"}, {"offset": 0.969, "color": "#FFFFFF"}, {"offset": 0.975, "color": "#FFFFFF"},
            {"offset": 0.975, "color": "#E36C0A"}, {"offset": 0.984, "color": "#E36C0A"}, {"offset": 0.984, "color": "#FFFFFF"}, {"offset": 0.99, "color": "#FFFFFF"},
            {"offset": 0.99, "color": "#E36C0A"}, {"offset": 0.999, "color": "#E36C0A"}, {"offset": 0.999, "color": "#FFFFFF"}, {"offset": 1, "color": "#FFFFFF"}
          ]
        }
      },
      "encoding": {
        "x": {"datum": 0, "type": "quantitative", "scale": {"type": "linear", "domain": [-337.74, 113.21], "nice": false, "zero": false}, "axis": null},
        "y": {"datum": 0, "type": "quantitative", "scale": {"type": "linear", "domain": [-124.53, 152.45], "nice": false, "zero": false}, "axis": null},
        "theta": {"field": "t0", "type": "quantitative", "scale": {"type": "linear", "domain": [0, 100], "zero": true}},
        "theta2": {"field": "t1"}
      }
    },
    {
      "data": {"name": "leaders"},
      "mark": {"type": "line", "stroke": "#A6A6A6", "strokeWidth": 1.6, "interpolate": "linear"},
      "encoding": {
        "x": {"field": "x", "type": "quantitative", "scale": {"type": "linear", "domain": [-337.74, 113.21], "nice": false, "zero": false}, "axis": null},
        "y": {"field": "y", "type": "quantitative", "scale": {"type": "linear", "domain": [-124.53, 152.45], "nice": false, "zero": false}, "axis": null},
        "detail": {"field": "id", "type": "nominal"},
        "order": {"field": "seq", "type": "quantitative"}
      }
    },
    {
      "data": {"name": "labels"},
      "mark": {"type": "text", "lineBreak": "\n", "font": "DejaVu Serif", "fontSize": 18, "lineHeight": 25.7, "align": "center", "baseline": "middle", "color": "#111111"},
      "encoding": {
        "x": {"field": "x", "type": "quantitative", "scale": {"type": "linear", "domain": [-337.74, 113.21], "nice": false, "zero": false}, "axis": null},
        "y": {"field": "y", "type": "quantitative", "scale": {"type": "linear", "domain": [-124.53, 152.45], "nice": false, "zero": false}, "axis": null},
        "text": {"field": "label", "type": "nominal"}
      }
    }
  ]
}
